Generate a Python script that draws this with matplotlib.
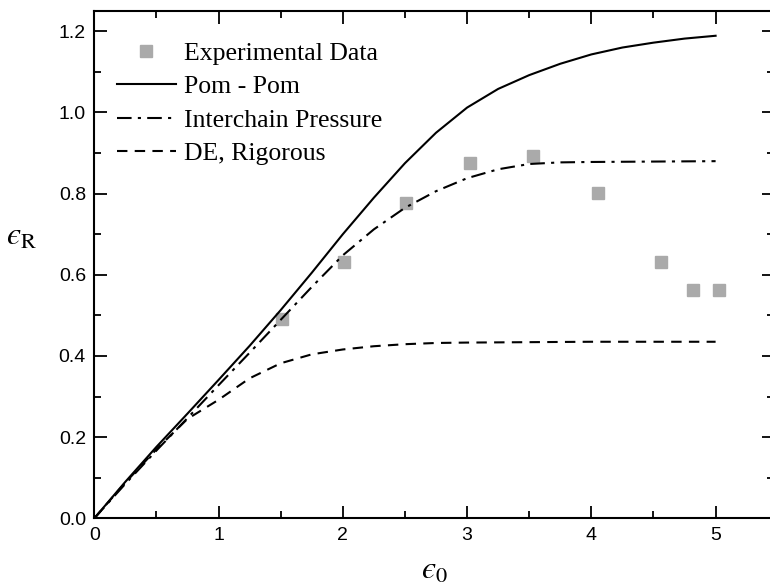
import matplotlib
matplotlib.use("Agg")
import matplotlib.pyplot as plt
from matplotlib.ticker import MultipleLocator, FuncFormatter

# Experimental data
exp_x = [1.51, 2.01, 2.51, 3.02, 3.53, 4.05, 4.56, 4.82, 5.03]
exp_y = [0.491, 0.631, 0.776, 0.876, 0.893, 0.802, 0.631, 0.563, 0.563]

# Pom-Pom model
pom_x = [0, 0.25, 0.5, 0.75, 1.0, 1.25, 1.5, 1.75, 2.0, 2.25, 2.5, 2.75, 3.0,
         3.25, 3.5, 3.75, 4.0, 4.25, 4.5, 4.75, 5.0]
pom_y = [0, 0.09, 0.176, 0.258, 0.341, 0.425, 0.513, 0.605, 0.70, 0.79, 0.875,
         0.95, 1.012, 1.058, 1.092, 1.12, 1.143, 1.16, 1.172, 1.182, 1.189]

# Interchain pressure model
icp_x = [0, 0.25, 0.5, 0.75, 1.0, 1.25, 1.5, 1.75, 2.0, 2.25, 2.5, 2.75, 3.0,
         3.25, 3.5, 3.75, 4.0, 4.5, 5.0]
icp_y = [0, 0.085, 0.167, 0.247, 0.328, 0.408, 0.489, 0.57, 0.648, 0.712, 0.765,
         0.806, 0.838, 0.86, 0.873, 0.877, 0.878, 0.879, 0.880]

# DE, rigorous
de_x = [0, 0.25, 0.5, 0.75, 1.0, 1.25, 1.5, 1.75, 2.0, 2.25, 2.5, 2.75, 3.0,
        3.5, 4.0, 5.0]
de_y = [0, 0.088, 0.17, 0.245, 0.292, 0.345, 0.382, 0.404, 0.416, 0.424, 0.429,
        0.432, 0.433, 0.434, 0.435, 0.435]

plt.rcParams['mathtext.fontset'] = 'stix'

fig = plt.figure(figsize=(7.7, 5.85), dpi=100)
ax = fig.add_axes([94.3 / 770, 1 - 518.3 / 585, (774 - 94.3) / 770, (518.3 - 11) / 585])

ax.plot(exp_x, exp_y, linestyle='none', marker='s', markersize=8,
        color='#aaaaaa', label='Experimental Data')
ax.plot(pom_x, pom_y, '-', color='black', lw=1.5, label='Pom - Pom')
ax.plot(icp_x, icp_y, color='black', lw=1.5, linestyle=(0, (7, 3, 1.5, 3)),
        label='Interchain Pressure')
ax.plot(de_x, de_y, color='black', lw=1.5, linestyle=(0, (5, 3.5)),
        label='DE, Rigorous')

ax.set_xlim(0, 5.47)
ax.set_ylim(0, 1.25)
ax.xaxis.set_major_locator(MultipleLocator(1))
ax.xaxis.set_minor_locator(MultipleLocator(0.5))
ax.yaxis.set_major_locator(MultipleLocator(0.2))
ax.yaxis.set_minor_locator(MultipleLocator(0.1))
ax.tick_params(which='both', direction='in', top=True, right=True, width=1.3)
ax.tick_params(which='major', length=9, labelsize=14, pad=6)
ax.tick_params(which='minor', length=5)
ax.xaxis.set_major_formatter(FuncFormatter(lambda v, p: f"{v:.0f}"))
ax.yaxis.set_major_formatter(FuncFormatter(lambda v, p: f"{v:.1f}"))
for lab in ax.get_xticklabels() + ax.get_yticklabels():
    lab.set_fontfamily('Liberation Sans')
for s in ax.spines.values():
    s.set_linewidth(1.5)

ax.set_xlabel('$\u03f5_0$', fontsize=23, labelpad=8)
ax.set_ylabel('$\u03f5_{\\mathrm{R}}$', fontsize=23, rotation=0,
              va='center', ha='center')
ax.yaxis.set_label_coords(-0.107, 0.555)

leg = ax.legend(loc='upper left', bbox_to_anchor=(0.01, 0.97), frameon=False,
                prop={'family': 'Liberation Serif', 'size': 18.5},
                handlelength=2.33, handletextpad=0.3, labelspacing=0.41,
                borderaxespad=0.2)

fig.savefig('out.png', dpi=100)
